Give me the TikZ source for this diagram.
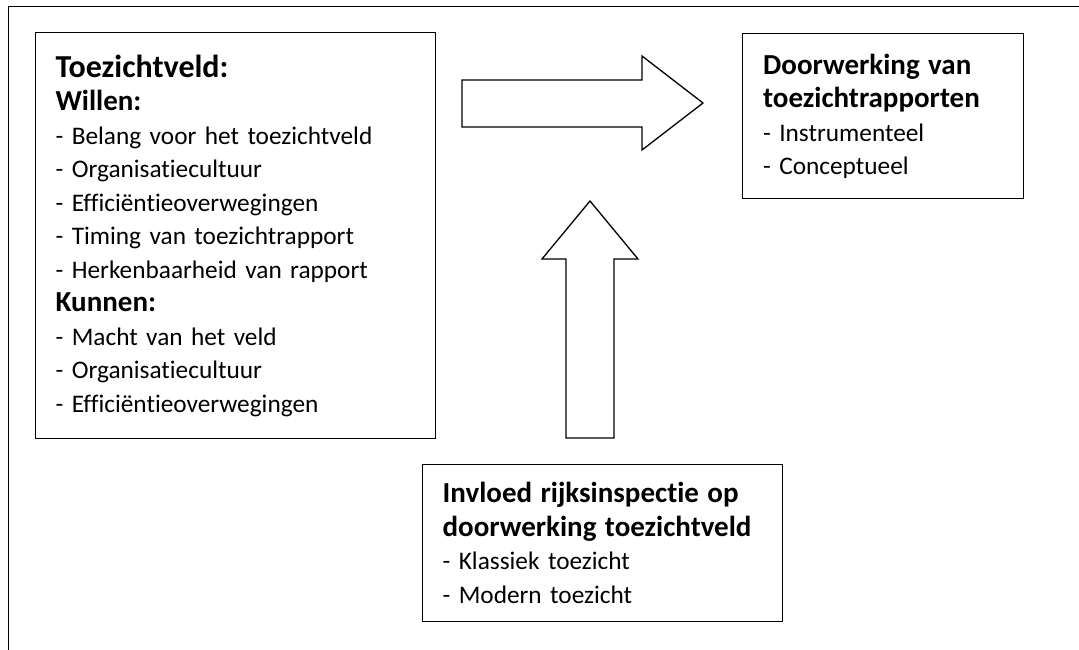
\documentclass[tikz,border=0pt]{standalone}
\usepackage{fontspec}
\setmainfont{Carlito}[Ligatures={NoCommon},WordSpace=0.9]
\newcommand{\kop}[2][29]{{\fontsize{#1}{33.5}\selectfont\bfseries #2}}
\begin{document}
\begin{tikzpicture}[x=1pt,y=-1pt,
  kader/.style={draw,line width=1.3pt,anchor=north west,align=left,
    inner xsep=20pt,inner ysep=0pt,font=\fontsize{25.3}{33.5}\selectfont},
  blokpijl/.style={draw,line width=1.3pt,line join=miter}]
  \useasboundingbox (0,0) rectangle (1079,650);
  \draw[line width=1pt] (8,650) -- (8,7) -- (1079,7);
  \node[kader,text width=360pt,minimum width=400pt,minimum height=406pt] (veld) at (35,32)
    {\kop[32]{Toezichtveld:}\\
     \kop{Willen:}\\
     - Belang voor het toezichtveld\\
     - Organisatiecultuur\\
     - Efficiëntieoverwegingen\\
     - Timing van toezichtrapport\\
     - Herkenbaarheid van rapport\\
     \kop{Kunnen:}\\
     - Macht van het veld\\
     - Organisatiecultuur\\
     - Efficiëntieoverwegingen};
  \node[kader,text width=240pt,minimum width=281pt,minimum height=165pt] (doorwerking) at (742,33)
    {\kop{Doorwerking van}\\
     \kop{toezichtrapporten}\\
     - Instrumenteel\\
     - Conceptueel};
  \node[kader,text width=320pt,minimum width=360pt,minimum height=157pt] (invloed) at (422,464)
    {\kop{Invloed rijksinspectie op}\\
     \kop{doorwerking toezichtveld}\\
     - Klassiek toezicht\\
     - Modern toezicht};
  \draw[blokpijl] (462,80) -- (642,80) -- (642,56) -- (703,103) -- (642,150)
    -- (642,127) -- (462,127) -- cycle;
  \draw[blokpijl] (566,438) -- (566,259) -- (542,259) -- (590,201) -- (638,259)
    -- (614,259) -- (614,438) -- cycle;
\end{tikzpicture}
\end{document}
